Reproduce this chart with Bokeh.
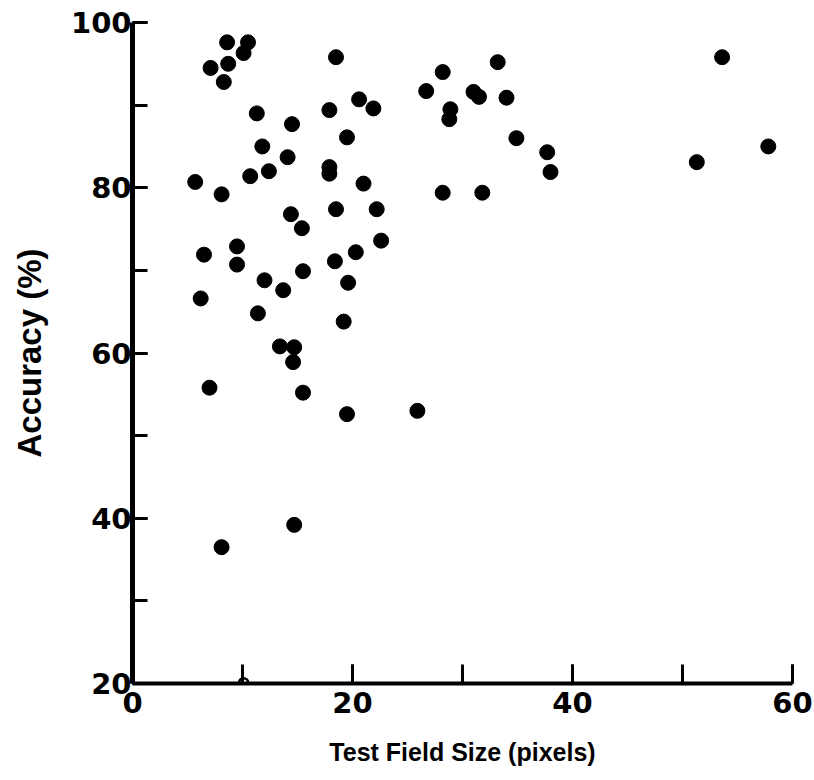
from bokeh.plotting import figure
from bokeh.models import Range1d, SingleIntervalTicker, ColumnDataSource
from bokeh.embed import file_html
from bokeh.resources import INLINE

# Data (test field size in pixels, accuracy in %)
field_size = [8.6, 10.5, 10.1, 8.7, 7.1, 8.3, 18.5, 11.3, 14.5, 11.8,
              14.1, 12.4, 10.7, 5.7, 8.1, 17.9, 20.6, 21.9, 19.5, 17.9,
              17.9, 21.0, 18.5, 22.2, 14.4, 15.4, 9.5, 6.5, 9.5, 6.2,
              12.0, 13.7, 11.4, 15.5, 18.4, 20.3, 19.6, 19.2, 13.4, 14.7,
              14.6, 7.0, 15.5, 19.5, 22.6, 8.1, 14.7, 25.9, 28.2, 26.7,
              33.2, 31.0, 31.5, 34.0, 28.9, 28.8, 34.9, 37.7, 38.0, 28.2,
              31.8, 53.6, 51.3, 57.8]
accuracy = [97.6, 97.6, 96.3, 95.0, 94.5, 92.8, 95.8, 89.0, 87.7, 85.0,
            83.7, 82.0, 81.4, 80.7, 79.2, 89.4, 90.7, 89.6, 86.1, 82.5,
            81.7, 80.5, 77.4, 77.4, 76.8, 75.1, 72.9, 71.9, 70.7, 66.6,
            68.8, 67.6, 64.8, 69.9, 71.1, 72.2, 68.5, 63.8, 60.8, 60.7,
            58.9, 55.8, 55.2, 52.6, 73.6, 36.5, 39.2, 53.0, 94.0, 91.7,
            95.2, 91.6, 91.0, 90.9, 89.5, 88.3, 86.0, 84.3, 81.9, 79.4,
            79.4, 95.8, 83.1, 85.0]
edge_size = [10.1]
edge_accuracy = [20.1]

x_range = (0, 60)
y_range = (20, 100)

src = ColumnDataSource(dict(x=field_size, y=accuracy))

p = figure(width=814, height=780, output_backend="svg", toolbar_location=None,
           x_range=Range1d(*x_range), y_range=Range1d(*y_range),
           min_border_left=132, min_border_right=22, min_border_top=22,
           min_border_bottom=97)
p.frame_width = 660
p.frame_height = 661
p.outline_line_color = None
p.xgrid.visible = False
p.ygrid.visible = False
p.background_fill_color = "white"
p.border_fill_color = "white"

p.scatter("x", "y", source=src, size=15, color="black", line_color="black")
p.scatter(edge_size, edge_accuracy, size=9, fill_color="white",
          line_color="black", line_width=2.5)

for ax, label in ((p.xaxis[0], "Test Field Size (pixels)"), (p.yaxis[0], "Accuracy (%)")):
    ax.ticker = SingleIntervalTicker(interval=20, num_minor_ticks=2)
    ax.axis_label = label
    ax.axis_label_text_font = "Liberation Sans"
    ax.axis_label_text_font_style = "bold"
    ax.axis_label_text_color = "black"
    ax.major_label_text_font = "DejaVu Sans"
    ax.major_label_text_font_style = "bold"
    ax.major_label_text_font_size = "29px"
    ax.major_label_text_color = "black"
    ax.axis_line_color = "black"
    ax.major_tick_line_color = "black"
    ax.minor_tick_line_color = "black"
    ax.major_tick_out = 0
    ax.minor_tick_out = 0
    ax.major_tick_line_width = 3
    ax.minor_tick_line_width = 3

xa = p.xaxis[0]
ya = p.yaxis[0]
xa.axis_label_text_font_size = "25px"
ya.axis_label_text_font_size = "33px"
xa.major_tick_in = 19
xa.minor_tick_in = 19
ya.major_tick_in = 15
ya.minor_tick_in = 15
ya.axis_line_width = 5
xa.axis_line_width = 4
ya.major_label_standoff = 1
xa.major_label_standoff = 8
ya.axis_label_standoff = 20
xa.axis_label_standoff = 22

open("out.html", "w").write(file_html(p, INLINE))
